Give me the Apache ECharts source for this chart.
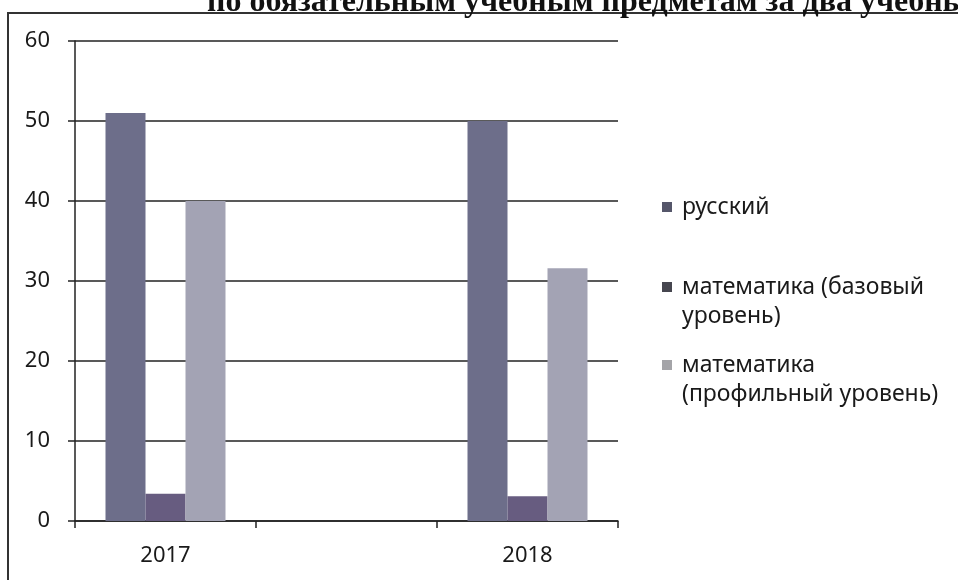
<!DOCTYPE html>
<html>
<head>
<meta charset="utf-8">
<script src="https://cdn.jsdelivr.net/npm/echarts@6/dist/echarts.min.js"></script>
<style>
html,body{margin:0;padding:0;background:#fff;}
#c{width:958px;height:580px;}
</style>
</head>
<body>
<div id="c"></div>
<script>
const titleText = 'по обязательным учебным предметам за два учебных года';
const categories = ['2017', '', '2018'];
const seriesNames = ['русский', 'математика (базовый уровень)', 'математика (профильный уровень)'];
const legendLabels = ['русский', 'математика (базовый\nуровень)', 'математика\n(профильный уровень)'];
const russian = [51, null, 50];
const mathBase = [3.4, null, 3.1];
const mathProfile = [40, null, 31.6];
const yTicks = [0, 10, 20, 30, 40, 50, 60];

const barColors = ['#6d6e8a', '#675c80', '#a3a3b4'];
const iconColors = ['#55566a', '#46464f', '#a4a4a8'];
const legendTops = [192.5, 272.5, 350.5];

const chart = echarts.init(document.getElementById('c'));
const font = 'Noto Sans';

const legends = seriesNames.map((n, i) => {
  const multi = legendLabels[i].indexOf('\n') >= 0;
  return {
    orient: 'vertical',
    left: 662,
    top: legendTops[i],
    padding: 0,
    itemWidth: 10,
    itemHeight: multi ? 39 : 10,
    icon: multi ? 'path://M0,0H10V10H0Z M0,39L0.01,39' : 'rect',
    selectedMode: false,
    data: [{ name: n, itemStyle: { color: iconColors[i] } }],
    formatter: () => legendLabels[i],
    textStyle: {
      fontFamily: font,
      fontSize: 23,
      lineHeight: 29,
      color: '#1a1a1a',
      padding: [0, 0, 0, 5]
    }
  };
});

const data = [russian, mathBase, mathProfile];

chart.setOption({
  animation: false,
  backgroundColor: '#fff',
  graphic: {
    elements: [
      {
        type: 'rect',
        left: 8,
        top: 12,
        shape: { width: 2000, height: 2 },
        style: { fill: '#333333' },
        z: 100
      },
      {
        type: 'rect',
        left: 7,
        top: 12,
        shape: { width: 2, height: 600 },
        style: { fill: '#333333' },
        z: 100
      },
      {
        type: 'text',
        left: 207,
        top: -13,
        style: {
          text: titleText,
          font: 'bold 32px "Liberation Serif"',
          fill: '#111'
        },
        z: 101
      }
    ]
  },
  legend: legends,
  grid: { left: 75, right: 340, top: 41, bottom: 59, containLabel: false },
  xAxis: {
    type: 'category',
    data: categories,
    boundaryGap: true,
    axisLine: { show: true, lineStyle: { color: '#222', width: 1.5 } },
    axisTick: { show: true, length: 7, lineStyle: { color: '#222', width: 1.5 } },
    axisLabel: { fontFamily: font, fontSize: 22, lineHeight: 22, color: '#1a1a1a', margin: 24 },
    splitLine: { show: false }
  },
  yAxis: {
    type: 'value',
    min: 0,
    max: 60,
    interval: 10,
    axisLine: { show: true, lineStyle: { color: '#222', width: 1.5 } },
    axisTick: { show: true, length: 7, inside: false, lineStyle: { color: '#222', width: 1.5 } },
    axisLabel: {
      fontFamily: font, fontSize: 22, color: '#1a1a1a', margin: 25,
      formatter: v => (yTicks.indexOf(v) >= 0 ? String(v) : '')
    },
    splitLine: { show: true, lineStyle: { color: '#222', width: 1.5 } }
  },
  series: seriesNames.map((n, i) => ({
    name: n,
    type: 'bar',
    data: data[i],
    barWidth: 40,
    barGap: '0%',
    itemStyle: { color: barColors[i] },
    z: 3
  }))
});
</script>
</body>
</html>
